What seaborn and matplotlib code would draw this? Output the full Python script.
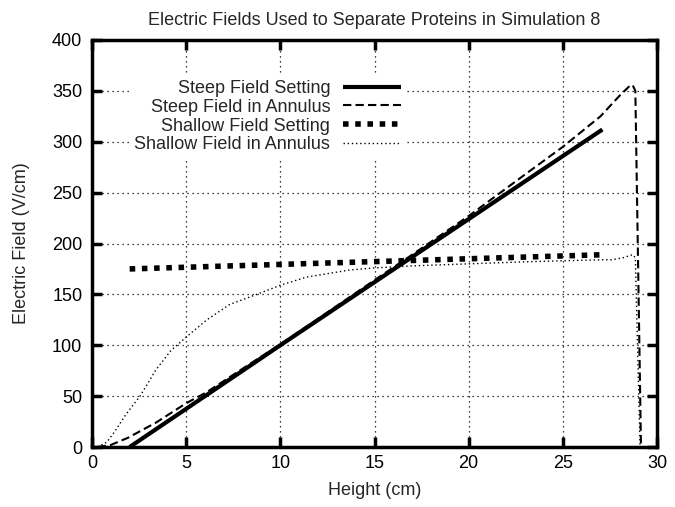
import matplotlib
matplotlib.use("Agg")
import matplotlib.pyplot as plt
import seaborn as sns
import pandas as pd

# ---- data ----
steep_set_x = [2.0, 10.0, 27.1]
steep_set_y = [0.0, 100.0, 312.0]

steep_ann_x = [0.3, 1.0, 1.9, 3.4, 5.0, 6.1, 8.0, 10.0, 12.0, 15.0, 17.0, 20.0,
               23.3, 25.0, 26.0, 27.0, 28.0, 28.5, 28.7, 28.85, 29.15]
steep_ann_y = [0, 2, 9, 24, 43, 54, 77, 101, 126, 164, 189, 227,
               272, 295, 310, 325, 345, 354, 356, 350, 0]

shallow_set_x = [2.0, 27.2]
shallow_set_y = [175.0, 189.0]

shallow_ann_x = [0.3, 0.8, 1.2, 1.8, 2.55, 3.4, 4.2, 5.0, 6.1, 7.3, 8.75, 10.0,
                 11.4, 13.7, 15.0, 17.0, 20.0, 23.0, 25.0, 27.0, 27.6, 28.2,
                 28.7, 28.85, 29.1]
shallow_ann_y = [0, 5, 15, 32, 50, 76, 95, 108, 125, 140, 150, 159,
                 167, 174, 176, 178, 180, 182, 183, 184, 184, 186,
                 189, 186, 0]

labels = ["Steep Field Setting", "Steep Field in Annulus",
          "Shallow Field Setting", "Shallow Field in Annulus"]
title = "Electric Fields Used to Separate Proteins in Simulation 8"
xlabel = "Height (cm)"
ylabel = "Electric Field (V/cm)"
xticks = [0, 5, 10, 15, 20, 25, 30]
yticks = [0, 50, 100, 150, 200, 250, 300, 350, 400]

# ---- style ----
sns.set_style("ticks")
plt.rcParams["font.family"] = ["Liberation Sans", "DejaVu Sans"]
plt.rcParams["font.size"] = 13

fig = plt.figure(figsize=(6.75, 5.07), dpi=100)
ax = fig.add_axes([92 / 675, 60 / 507, 565 / 675, 407 / 507])

series = [
    (steep_set_x, steep_set_y, dict(linewidth=3.0, linestyle="-")),
    (steep_ann_x, steep_ann_y, dict(linewidth=1.5, dashes=(4, 2))),
    (shallow_set_x, shallow_set_y, dict(linewidth=4.0, dashes=(1.0, 1.2))),
    (shallow_ann_x, shallow_ann_y, dict(linewidth=1.0, dashes=(1, 2))),
]
for (xs, ys, kw), lab in zip(series, labels):
    df = pd.DataFrame({"x": xs, "y": ys})
    sns.lineplot(data=df, x="x", y="y", ax=ax, color="black", label=lab,
                 sort=False, estimator=None, **kw)

for line in ax.get_lines():
    line.set_dash_capstyle("butt")
    line.set_solid_capstyle("butt")

ax.set_xlim(0, 30)
ax.set_ylim(0, 400)
ax.set_xticks(xticks)
ax.set_yticks(yticks)
ax.grid(True, color="black", linewidth=0.9, linestyle=(0, (1, 3)))
ax.set_axisbelow(True)
for s in ax.spines.values():
    s.set_linewidth(2.5)
    s.set_color("black")
ax.tick_params(direction="in", length=7, width=2.5, top=True, right=True,
               labelsize=13, colors="black", pad=7)
ax.tick_params(axis="x", pad=6)

ax.set_title(title, fontsize=13, pad=11)
ax.set_xlabel(xlabel, fontsize=13, labelpad=7)
ax.set_ylabel(ylabel, fontsize=13, labelpad=16)

leg = ax.legend(loc="upper right", bbox_to_anchor=(0.556, 0.915),
                markerfirst=False, frameon=True, fontsize=13,
                handlelength=3.2, handletextpad=0.7, labelspacing=0.1,
                borderpad=0.3, borderaxespad=0.0)
leg.get_frame().set_edgecolor("none")
leg.get_frame().set_facecolor("white")
leg.get_frame().set_alpha(1.0)
for t in leg.get_texts():
    t.set_ha("right")

fig.savefig("out.png", dpi=100)
